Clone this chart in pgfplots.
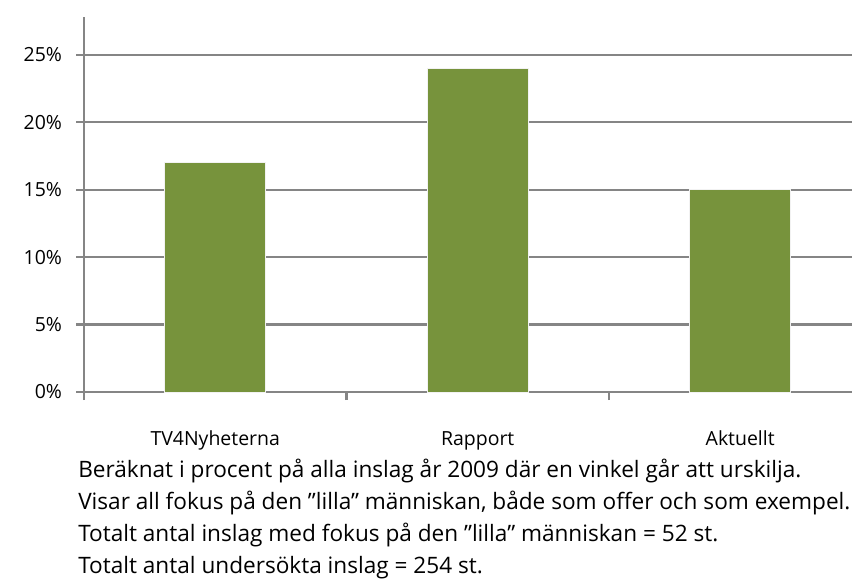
\documentclass[border=0pt]{standalone}
\usepackage{pgfplots}
\pgfplotsset{compat=1.18}
\usepackage{fontspec}
\setmainfont{Open Sans}
\definecolor{barg}{HTML}{77933C}
\definecolor{axg}{HTML}{858585}
\begin{document}
\begin{tikzpicture}
\useasboundingbox (0,0) rectangle (639pt,-438.75pt);
\begin{axis}[
  at={(63pt,-294pt)}, anchor=south west,
  scale only axis,
  width=576pt, height=281.25pt,
  xmin=-0.5, xmax=2.426,
  ymin=0, ymax=27.8,
  axis x line*=bottom, axis y line*=left,
  axis line style={axg, line width=1.6pt},
  every outer x axis line/.append style={-}, every outer y axis line/.append style={-},
  xtick={0,1,2},
  xticklabels={TV4Nyheterna,Rapport,Aktuellt},
  major x tick style={draw=none},
  minor xtick={-0.5,0.5,1.5},
  minor x tick style={axg, line width=1.6pt},
  minor tick length=6pt,
  ytick={0,5,10,15,20,25},
  yticklabels={0\%,5\%,10\%,15\%,20\%,25\%},
  y tick style={axg, line width=1.6pt},
  major tick length=6pt,
  tick align=outside,
  ymajorgrids,
  grid style={axg, line width=1.6pt},
  xticklabel style={anchor=base, yshift=-33.75pt, font=\fontsize{14.6}{17}\selectfont},
  yticklabel style={anchor=east, xshift=-7pt, font=\fontsize{14.6}{17}\selectfont},
  clip=false,
]
\addplot[ybar, bar width=75.75pt, fill=barg, draw=white!95!black, line width=0.75pt] coordinates {(0,17) (1,24) (2,15)};
\end{axis}
\begin{scope}[font=\fontsize{16.95}{20}\selectfont]
\node[anchor=base west, inner sep=0] at (58.5pt,-358pt) {Beräknat i procent på alla inslag år 2009 där en vinkel går att urskilja.};
\node[anchor=base west, inner sep=0] at (58.5pt,-382pt) {Visar all fokus på den ”lilla” människan, både som offer och som exempel.};
\node[anchor=base west, inner sep=0] at (58.5pt,-405.75pt) {Totalt antal inslag med fokus på den ”lilla” människan = 52 st.};
\node[anchor=base west, inner sep=0] at (58.5pt,-429.75pt) {Totalt antal undersökta inslag = 254 st.};
\end{scope}
\end{tikzpicture}
\end{document}
